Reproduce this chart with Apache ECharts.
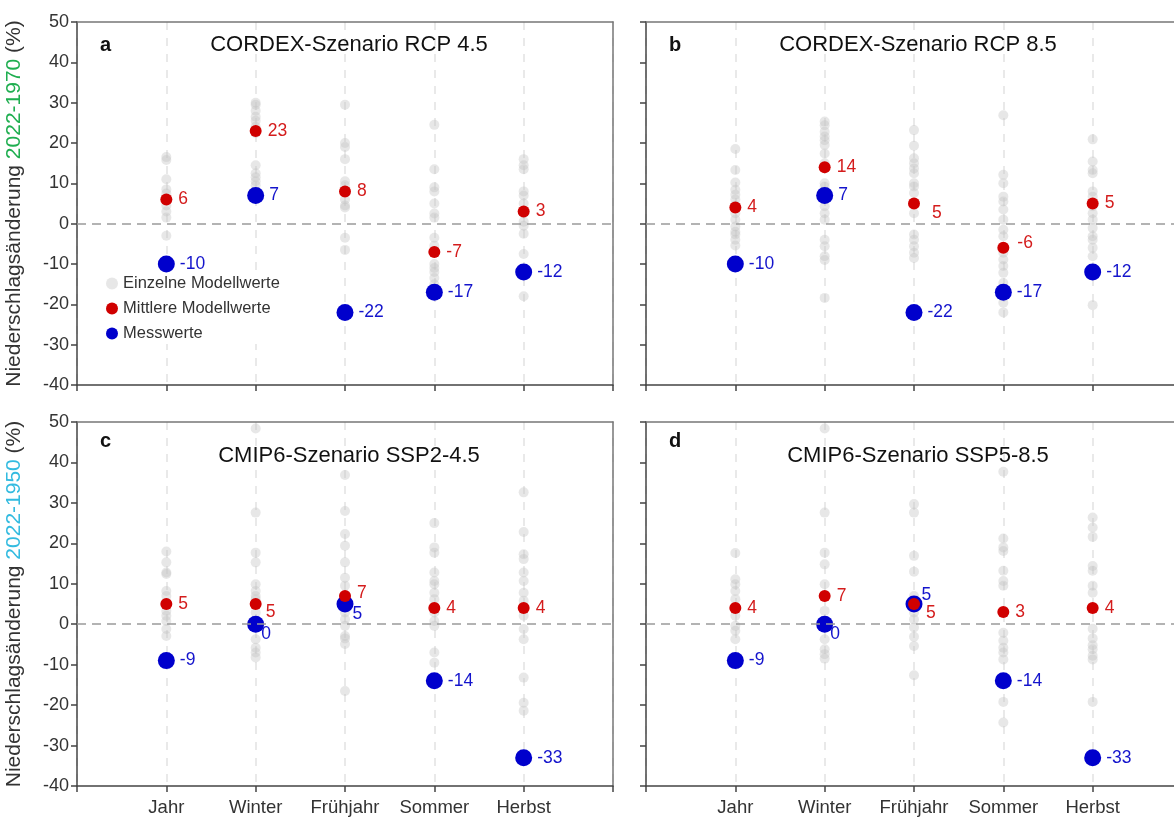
<!DOCTYPE html>
<html>
<head>
<meta charset="utf-8">
<script src="https://cdn.jsdelivr.net/npm/echarts@6/dist/echarts.min.js"></script>
<style>
html, body { margin: 0; padding: 0; background: #fff; overflow: hidden; }
#chart { width: 1190px; height: 824px; }
</style>
</head>
<body>
<div id="chart"></div>
<script>
// categories on the x axis
var categories = ['Jahr', 'Winter', 'Frühjahr', 'Sommer', 'Herbst'];

// panel titles
var panelLetters = ['a', 'b', 'c', 'd'];
var panelTitles = ['CORDEX-Szenario RCP 4.5', 'CORDEX-Szenario RCP 8.5', 'CMIP6-Szenario SSP2-4.5', 'CMIP6-Szenario SSP5-8.5'];

// mean model values (red)
var meanA = [6, 23, 8, -7, 3];
var meanB = [4, 14, 5, -6, 5];
var meanC = [5, 5, 7, 4, 4];
var meanD = [4, 7, 5, 3, 4];

// observed values (blue)
var obsA = [-10, 7, -22, -17, -12];
var obsB = [-10, 7, -22, -17, -12];
var obsC = [-9, 0, 5, -14, -33];
var obsD = [-9, 0, 5, -14, -33];

// individual model values (grey), one list per category
var modelsA = [
  [16.5, 15.8, 11, 8.5, 7.5, 6, 4.5, 3, 1.5, -3],
  [30, 29.5, 28, 26.5, 25.5, 24, 22.5, 14.5, 12.5, 11.5, 10.5, 9.5, 8],
  [29.5, 20, 19, 16, 10.5, 9.5, 8, 6, 4.5, 4, -3.5, -6.5],
  [24.5, 13.5, 9, 8, 5, 2.5, 1.5, -3.5, -5.5, -10, -11, -12, -13.5, -15],
  [16, 14.5, 13.5, 8, 7, 5, 2.5, 0.5, -0.5, -2.5, -7.5, -18]
];
var modelsB = [
  [18.5, 13.3, 10.2, 8.4, 7.2, 6, 4.5, 2.6, 1, -0.7, -2, -2.7, -4, -5.4],
  [25.3, 24.4, 22.8, 21.6, 20.7, 19.5, 17.4, 15, 10, 9.2, 8, 6, 4.3, 2.6, 1, -4, -5.6, -8.1, -9, -18.4],
  [23.2, 19.3, 16.2, 15, 13.7, 12.5, 10, 9.2, 7.6, 2.6, -2.7, -4, -5.6, -7.2, -8.5],
  [26.9, 12.1, 10, 6.7, 5.5, 3.5, 1, -1.5, -3.1, -7.2, -8.9, -10.5, -12.2, -14.7, -19.6, -22],
  [20.9, 15.4, 13.3, 12.5, 8, 6.7, 4.3, 2.6, 1, -1.1, -3.1, -4, -6, -8.1, -20.2]
];
var modelsC = [
  [18, 15.3, 12.8, 12.4, 8.2, 7, 3.3, 2.1, 0.8, -1.2, -2.9],
  [48.4, 27.6, 17.7, 15.3, 9.9, 8.2, 7, 6.2, 2.9, -3.7, -5.8, -7, -8.2],
  [36.9, 28, 22.3, 19.4, 15.3, 11.5, 9.5, 2.9, 1.2, -0.4, -2.9, -3.5, -4.9, -16.5],
  [25, 19, 17.7, 12.8, 10.7, 9.9, 7.8, 6.2, 2.9, 0.8, -0.4, -7, -9.5],
  [32.6, 22.8, 17.3, 16.1, 12.8, 10.7, 7.8, 5.8, 2.1, -1.2, -3.7, -13.2, -19.4, -21.4]
];
var modelsD = [
  [17.6, 11.1, 9.9, 8.2, 6.2, 2.1, -0.4, -1.6, -3.7],
  [48.4, 27.6, 17.7, 14.8, 9.9, 3.3, -3.7, -6.2, -7.4, -8.5],
  [29.7, 27.6, 16.9, 13, 7, 2.9, 1.2, -0.8, -3.1, -5.4, -12.6],
  [37.7, 21.2, 19, 18.1, 13.2, 10.7, 9.5, -2.1, -4.1, -5.8, -7, -8.7, -19.2, -24.3],
  [26.4, 23.9, 21.6, 14.4, 13.2, 9.5, 7.8, -1.1, -3.5, -5.2, -6.2, -7.8, -8.7, -19.2]
];

var means = [meanA, meanB, meanC, meanD];
var obs = [obsA, obsB, obsC, obsD];
var models = [modelsA, modelsB, modelsC, modelsD];

// label nudges where numbers would collide (panel -> category index -> [dx, dy])
var redNudge = [{}, { 2: [6, 10], 3: [2, -5] }, { 1: [-2, 8], 2: [0, -3] }, { 2: [0, 9] }];
var blueNudge = [{}, {}, { 1: [-8, 10], 2: [-6, 10] }, { 1: [-8, 10], 2: [-6, -9] }];

var FONT = 'Liberation Sans, Arial, sans-serif';
var GREY = 'rgba(195,195,195,0.4)';
var RED = '#d00000';
var BLUE = '#0000cc';

// panel b and d run past the right edge of the picture, as in the original crop
var grids = [
  { left: 77, top: 22, width: 536, height: 363 },
  { left: 646, top: 22, width: 536, height: 363 },
  { left: 77, top: 422, width: 536, height: 364 },
  { left: 646, top: 422, width: 536, height: 364 }
];

var chart = echarts.init(document.getElementById('chart'));

var xAxes = [], yAxes = [], series = [], titles = [];

grids.forEach(function (g, p) {
  var bottomRow = p >= 2, leftCol = p % 2 === 0;
  xAxes.push({
    gridIndex: p, type: 'value', min: 0, max: 6, interval: 1,
    axisLine: { onZero: false, lineStyle: { color: '#444', width: 1.5 } },
    axisTick: { length: 6, lineStyle: { color: '#444', width: 1.5 } },
    axisLabel: {
      show: bottomRow, margin: 12, fontSize: 18.5, color: '#333', fontFamily: FONT,
      formatter: function (v) { return categories[v - 1] || ''; }
    },
    splitLine: { show: true, lineStyle: { color: '#e2e2e2', width: 1.5, type: [8, 8] } }
  });
  xAxes.push({
    gridIndex: p, type: 'value', position: 'top', min: 0, max: 6,
    axisLine: { show: true, onZero: false, lineStyle: { color: '#777', width: 1.5 } },
    axisTick: { show: false }, axisLabel: { show: false }, splitLine: { show: false }
  });
  var y = {
    gridIndex: p, type: 'value', min: -40, max: 50, interval: 10,
    axisLine: { show: true, onZero: false, lineStyle: { color: '#444', width: 1.5 } },
    axisTick: { show: true, length: 6, lineStyle: { color: '#444', width: 1.5 } },
    axisLabel: { show: leftCol, margin: 8, fontSize: 18, color: '#333', fontFamily: FONT },
    splitLine: { show: false }
  };
  if (leftCol) {
    var span = p === 0 ? '{g|2022-1970}' : '{c|2022-1950}';
    y.name = '{n|Niederschlagsänderung }' + span + '{n| (%)}';
    y.nameLocation = 'middle';
    y.nameGap = 52;
    y.nameTextStyle = {
      rich: {
        n: { fontSize: 21, color: '#333', fontFamily: FONT },
        g: { fontSize: 21, color: '#1fae50', fontFamily: FONT },
        c: { fontSize: 21, color: '#33bbe0', fontFamily: FONT }
      }
    };
  }
  yAxes.push(y);
  yAxes.push({
    gridIndex: p, type: 'value', position: 'right', min: -40, max: 50,
    axisLine: { show: true, onZero: false, lineStyle: { color: '#777', width: 1.5 } },
    axisTick: { show: false }, axisLabel: { show: false }, splitLine: { show: false }
  });

  titles.push({
    text: panelLetters[p], left: g.left + 18, top: g.top + (bottomRow ? 4 : 8),
    textStyle: { fontSize: 20, fontWeight: 'bold', color: '#111', fontFamily: FONT }
  });
  titles.push({
    text: panelTitles[p], left: g.left + 267, top: g.top + (bottomRow ? 18 : 7), textAlign: 'center',
    textStyle: { fontSize: 22, fontWeight: 'normal', color: '#111', fontFamily: FONT }
  });

  var greyData = [];
  models[p].forEach(function (list, i) {
    list.forEach(function (v) { greyData.push([i + 1, v]); });
  });

  function pointData(values, nudge) {
    return values.map(function (v, i) {
      var item = { value: [i + 1, v] };
      if (nudge[i]) item.label = { offset: nudge[i] };
      return item;
    });
  }

  series.push({
    name: 'Einzelne Modellwerte', type: 'scatter', xAxisIndex: 2 * p, yAxisIndex: 2 * p,
    symbolSize: 10, itemStyle: { color: GREY, opacity: 1 }, data: greyData, z: 2,
    markLine: {
      silent: true, symbol: 'none', label: { show: false },
      lineStyle: { color: '#9a9a9a', width: 1.5, type: [9, 6] },
      data: [{ yAxis: 0 }]
    }
  });
  series.push({
    name: 'Messwerte', type: 'scatter', xAxisIndex: 2 * p, yAxisIndex: 2 * p,
    symbolSize: 17, itemStyle: { color: BLUE, opacity: 1 }, z: 3,
    label: {
      show: true, position: 'right', distance: 5, fontSize: 17.5, color: '#1414cc', fontFamily: FONT,
      formatter: function (d) { return d.value[1]; }
    },
    data: pointData(obs[p], blueNudge[p])
  });
  series.push({
    name: 'Mittlere Modellwerte', type: 'scatter', xAxisIndex: 2 * p, yAxisIndex: 2 * p,
    symbolSize: 12, itemStyle: { color: RED, opacity: 1 }, z: 4,
    label: {
      show: true, position: 'right', distance: 6, fontSize: 17.5, color: '#d41c1c', fontFamily: FONT,
      formatter: function (d) { return d.value[1]; }
    },
    data: pointData(means[p], redNudge[p])
  });
});

chart.setOption({
  animation: false,
  textStyle: { fontFamily: FONT },
  title: titles,
  grid: grids,
  xAxis: xAxes,
  yAxis: yAxes,
  legend: {
    data: ['Einzelne Modellwerte', 'Mittlere Modellwerte', 'Messwerte'],
    orient: 'vertical', left: 104, top: 273, itemGap: 8, padding: [2, 4, 2, 2],
    backgroundColor: '#fff',
    itemWidth: 12, itemHeight: 12, icon: 'circle',
    textStyle: { fontSize: 16.5, color: '#333', fontFamily: FONT }
  },
  series: series
});
</script>
</body>
</html>
